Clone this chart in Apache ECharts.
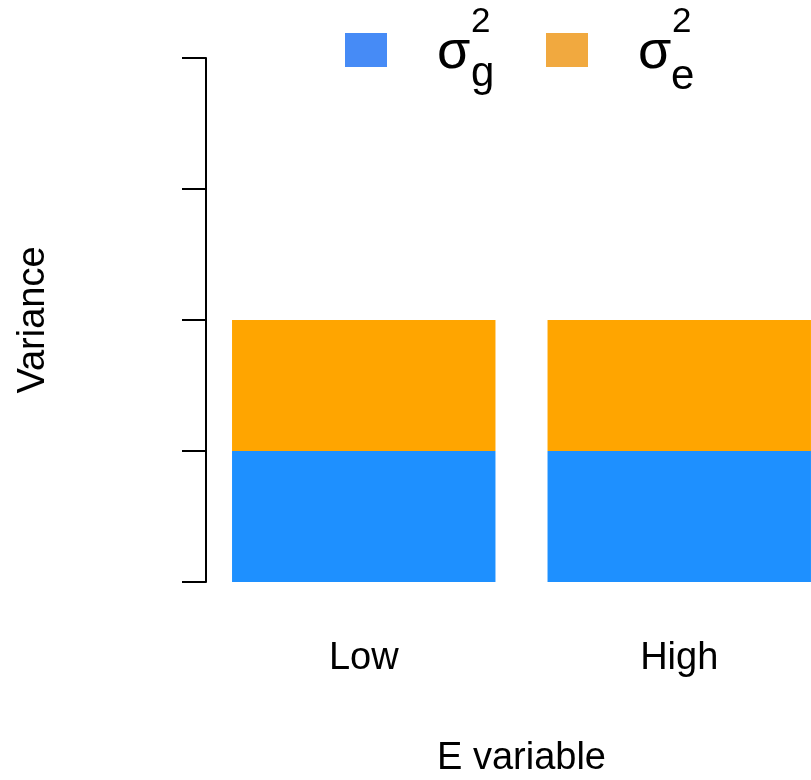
<!DOCTYPE html>
<html>
<head>
<meta charset="utf-8">
<script src="https://cdn.jsdelivr.net/npm/echarts@6/dist/echarts.min.js"></script>
<style>
  html, body { margin: 0; padding: 0; background: #ffffff; }
  #chart { width: 811px; height: 780px; }
</style>
</head>
<body>
<div id="chart"></div>
<script>
// Environment levels on the x axis
const categories = ['Low', 'High'];
// Genetic variance component (bottom of each stack)
const geneticVariance = [1, 1];
// Environmental variance component (top of each stack)
const environmentalVariance = [1, 1];
// Y scale: unlabeled ticks at these values
const yMin = 0;
const yMax = 4;
const yStep = 1;

const FONT = '"Liberation Sans", Arial, Helvetica, sans-serif';
const BLUE = '#1E90FF';
const ORANGE = '#FFA500';

const chart = echarts.init(document.getElementById('chart'), null, { renderer: 'canvas' });

// Superscript / subscript pieces of the legend labels
function scriptText(x, y, text, size) {
  return {
    type: 'text',
    x: x,
    y: y,
    style: {
      text: text,
      font: size + 'px ' + FONT,
      fill: '#000000',
      align: 'left',
      verticalAlign: 'middle',
      textAlign: 'left',
      textVerticalAlign: 'middle'
    }
  };
}

function legendFor(name, left, color) {
  return {
    data: [{ name: name, itemStyle: { color: color } }],
    left: left,
    top: 20,
    icon: 'rect',
    itemWidth: 42,
    itemHeight: 34,
    itemGap: 0,
    padding: 0,
    formatter: () => '{s|σ}',
    textStyle: {
      rich: {
        s: { fontSize: 54, lineHeight: 34, fontFamily: FONT, color: '#000000', padding: [6, 0, 0, 45] }
      }
    }
  };
}

const option = {
  animation: false,
  backgroundColor: '#ffffff',
  textStyle: { fontFamily: FONT },
  legend: [
    legendFor('σg²', 345, '#468BF6'),
    legendFor('σe²', 546, '#F1A93F')
  ],
  grid: { left: 206, top: 58, right: -26, bottom: 198, containLabel: false, outerBoundsMode: 'none' },
  xAxis: {
    type: 'category',
    data: categories,
    axisLine: { show: false },
    axisTick: { show: false },
    axisLabel: { fontSize: 38, color: '#000000', margin: 58, fontFamily: FONT },
    name: 'E variable',
    nameLocation: 'middle',
    nameGap: 158,
    nameTextStyle: { fontSize: 38, color: '#000000', fontFamily: FONT }
  },
  yAxis: {
    type: 'value',
    min: yMin,
    max: yMax,
    interval: yStep,
    axisLine: { show: true, lineStyle: { color: '#000000', width: 2 } },
    axisTick: { show: true, length: 24, lineStyle: { color: '#000000', width: 2 } },
    axisLabel: { show: false },
    splitLine: { show: false },
    name: 'Variance',
    nameLocation: 'middle',
    nameRotate: 90,
    nameGap: 153,
    nameTextStyle: { fontSize: 38, color: '#000000', fontFamily: FONT }
  },
  series: [
    {
      name: 'σg²',
      type: 'bar',
      stack: 'variance',
      data: geneticVariance,
      barWidth: '83.5%',
      itemStyle: { color: BLUE }
    },
    {
      name: 'σe²',
      type: 'bar',
      stack: 'variance',
      data: environmentalVariance,
      barWidth: '83.5%',
      itemStyle: { color: ORANGE }
    }
  ],
  graphic: [
    scriptText(471, 22.5, '2', 35),
    scriptText(471, 74, 'g', 42),
    scriptText(672, 22.5, '2', 35),
    scriptText(671, 77, 'e', 42)
  ]
};

chart.setOption(option);
</script>
</body>
</html>
